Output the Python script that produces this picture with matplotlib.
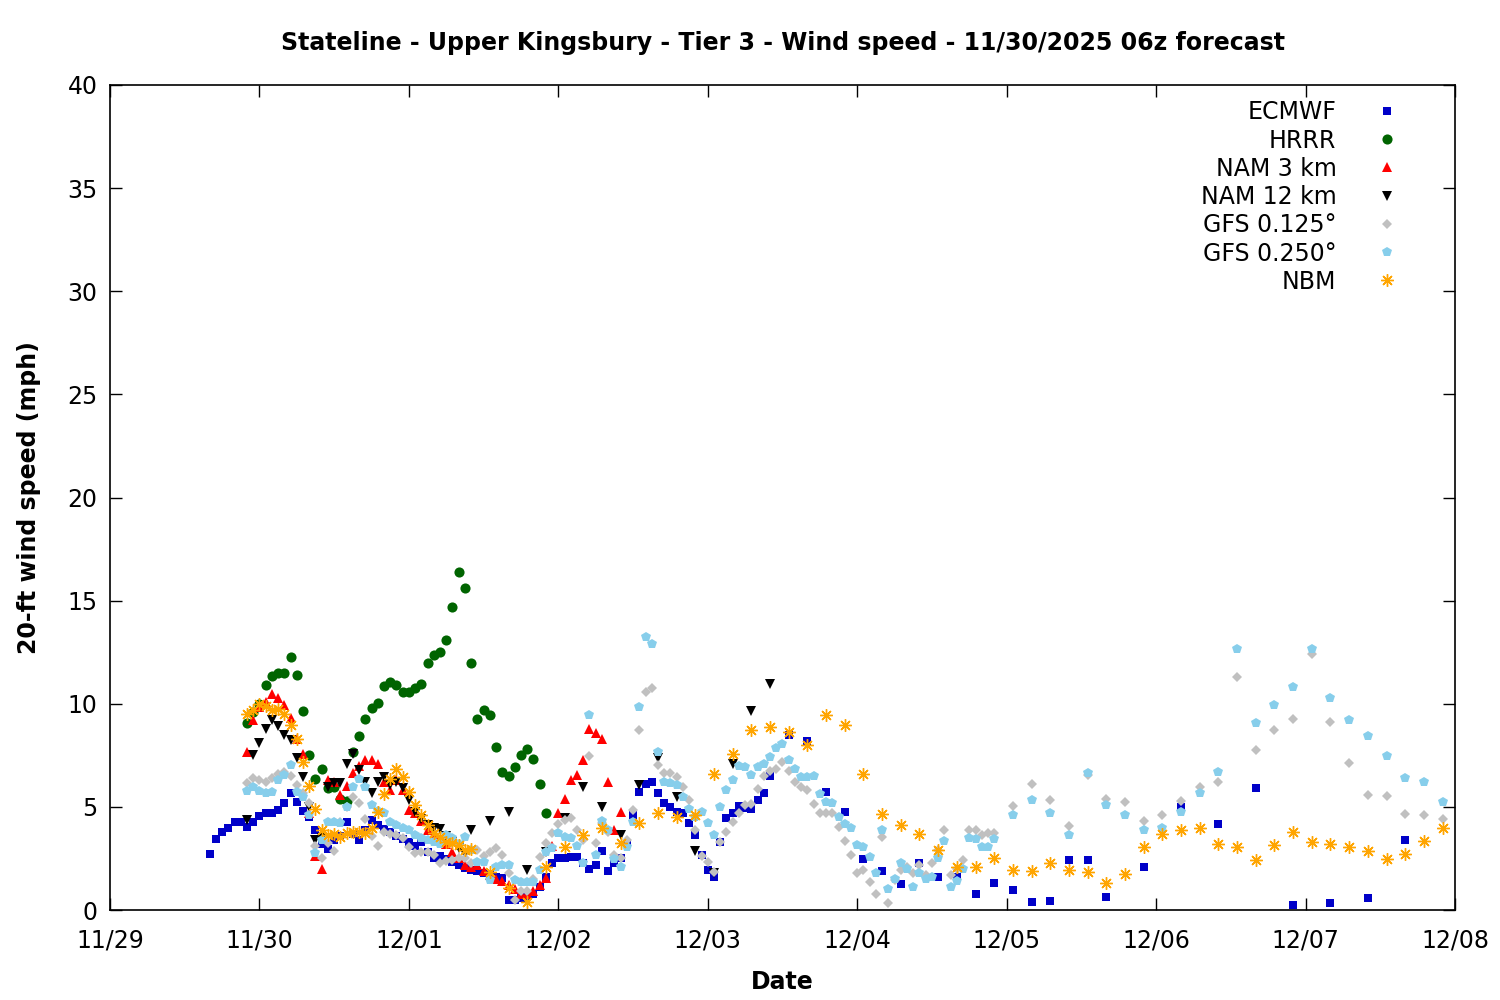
"""
Stateline - Upper Kingsbury - Tier 3 wind speed forecast plume
Reconstruction of the 11/30/2025 06z model comparison chart
"""

import matplotlib
matplotlib.use('Agg')
import matplotlib.pyplot as plt
import matplotlib.dates as mdates
import numpy as np
import pandas as pd

# Forecast valid times, hours after 11/29 00:00 local
BASE_TIME = pd.Timestamp('2025-11-29 00:00')

ecmwf_hours = list(range(16, 107)) + list(range(109, 161, 3)) + list(range(166, 209, 6))
ecmwf_mph = [
    2.7, 3.43, 3.8, 3.96, 4.28, 4.28, 4.04, 4.28, 4.56, 4.72,
    4.72, 4.85, 5.2, 5.65, 5.25, 4.8, 4.52, 3.9, 3.2, 2.94,
    3.4, 3.6, 4.28, 3.7, 3.4, 3.9, 4.36, 4.1, 3.95, 3.8,
    3.6, 3.45, 3.3, 3.1, 3.3, 2.8, 2.5, 2.6, 2.45, 2.35,
    2.18, 2.05, 1.94, 1.9, 1.78, 1.7, 1.6, 1.55, 0.48, 0.5,
    0.6, 0.7, 0.8, 1.1, 1.6, 2.26, 2.5, 2.5, 2.58, 2.58,
    2.26, 2.0, 2.18, 2.87, 1.89, 2.26, 2.5, 3.2, 4.6, 5.74,
    6.1, 6.22, 5.68, 5.17, 5.0, 4.77, 4.72, 4.23, 3.64, 2.67,
    1.94, 1.6, 3.3, 4.44, 4.69, 5.04, 4.95, 4.88, 5.33, 5.68,
    6.5,
    # 3-hourly
    8.5, 8.2, 5.7, 4.73, 2.46, 1.9, 1.26, 2.26, 1.6, 1.6,
    0.8, 1.3, 0.97, 0.37, 0.44, 2.42, 2.42, 0.61,
    # 6-hourly
    2.07, 5.0, 4.15, 5.9, 0.24, 0.32, 0.56, 3.4,
]

hrrr_hours = list(range(22, 71))
hrrr_mph = [
    9.05, 9.6, 10.0, 10.9, 11.35, 11.5, 11.47, 12.25, 11.4, 9.66,
    7.5, 6.34, 6.84, 5.9, 5.95, 5.4, 5.3, 7.67, 8.44, 9.24,
    9.78, 10.05, 10.87, 11.07, 10.9, 10.55, 10.55, 10.75, 10.94, 11.96,
    12.36, 12.5, 13.1, 14.67, 16.37, 15.6, 11.96, 9.25, 9.7, 9.45,
    7.9, 6.7, 6.5, 6.95, 7.5, 7.8, 7.3, 6.1, 4.69,
]

nam3_hours = list(range(22, 83))
nam3_mph = [
    7.67, 9.2, 9.85, 10.1, 10.47, 10.26, 9.94, 9.29, 8.3, 7.56,
    4.7, 2.6, 2.0, 6.3, 6.22, 5.58, 6.0, 6.64, 7.0, 7.27,
    7.27, 7.1, 6.2, 5.8, 6.3, 5.8, 4.85, 4.7, 4.3, 3.9,
    3.7, 3.4, 3.2, 2.83, 2.5, 2.2, 2.1, 2.2, 1.9, 1.7,
    1.5, 1.4, 1.2, 1.0, 0.8, 0.8, 0.9, 1.2, 1.53, 3.1,
    4.69, 5.4, 6.3, 6.55, 7.27, 8.8, 8.6, 8.27, 6.22, 3.9,
    4.77,
]

nam12_hours = list(range(22, 59)) + list(range(61, 107, 3))
nam12_mph = [
    4.36, 7.5, 8.1, 8.8, 9.2, 8.9, 8.5, 8.24, 7.35, 6.46,
    5.0, 3.4, 3.5, 5.95, 6.14, 6.14, 7.1, 7.56, 6.8, 6.2,
    5.65, 6.22, 6.46, 6.06, 6.22, 5.9, 5.33, 4.77, 4.4, 4.12,
    3.96, 3.91, 3.6, 3.3, 3.0, 2.7, 3.9,
    # 3-hourly
    4.3, 4.77, 1.94, 2.8, 4.44, 5.97, 5.0, 3.64, 6.06, 7.35,
    5.5, 2.88, 1.8, 7.1, 9.65, 10.96,
]

gfs_hours = list(range(22, 143)) + list(range(145, 215, 3))
gfs0125_mph = [
    6.18, 6.38, 6.3, 6.2, 6.38, 6.6, 6.7, 6.5, 6.06, 5.65,
    5.17, 3.1, 2.5, 3.23, 2.87, 4.28, 5.0, 5.5, 5.2, 4.4,
    3.6, 3.1, 3.8, 3.7, 3.64, 3.5, 3.07, 2.78, 2.83, 2.8,
    2.67, 2.26, 2.4, 2.42, 2.5, 2.5, 2.3, 2.9, 2.6, 2.8,
    3.02, 2.67, 1.78, 0.48, 0.9, 0.9, 1.5, 2.58, 3.23, 3.72,
    4.17, 4.36, 4.44, 3.88, 3.4, 7.47, 3.26, 4.2, 3.8, 2.67,
    2.5, 3.4, 4.85, 8.73, 10.58, 10.75, 7.03, 6.63, 6.63, 6.46,
    5.95, 5.33, 3.88, 2.62, 2.34, 1.86, 3.3, 3.8, 4.28, 4.72,
    5.1, 5.14, 5.85, 6.5, 6.75, 6.85, 7.19, 6.75, 6.22, 5.95,
    5.82, 5.14, 4.69, 4.69, 4.69, 4.04, 3.36, 2.67, 1.78, 1.94,
    1.37, 0.8, 3.55, 0.36, 1.45, 1.94, 2.1, 1.8, 2.18, 1.7,
    2.26, 2.9, 3.88, 1.7, 2.0, 2.42, 3.88, 3.88, 3.64, 3.72,
    3.72,
    # 3-hourly
    5.04, 6.1, 5.33, 4.07, 6.55, 5.37, 5.25, 4.33, 4.6, 5.3,
    5.98, 6.19, 11.28, 7.76, 8.73, 9.25, 12.41, 9.1, 7.11, 5.58,
    5.53, 4.65, 4.6, 4.41,
]
gfs0250_mph = [
    5.78, 5.98, 5.78, 5.69, 5.74, 6.3, 6.55, 7.03, 5.74, 5.5,
    4.6, 2.78, 3.4, 4.28, 4.28, 4.2, 5.0, 5.95, 6.34, 5.95,
    5.1, 4.8, 4.69, 4.28, 4.12, 3.96, 3.88, 3.64, 3.48, 3.4,
    3.3, 3.2, 3.64, 3.5, 3.2, 3.55, 2.9, 2.34, 2.34, 1.45,
    2.1, 2.18, 2.18, 1.45, 1.37, 1.37, 1.37, 1.94, 2.83, 3.0,
    3.72, 3.52, 3.48, 3.1, 2.26, 9.45, 2.67, 4.33, 3.9, 2.46,
    2.1, 3.07, 4.28, 9.82, 13.22, 12.88, 7.67, 6.22, 6.17, 6.06,
    5.5, 4.9, 4.5, 4.77, 4.23, 3.64, 4.98, 5.82, 6.3, 7.0,
    6.95, 6.55, 6.95, 7.1, 7.4, 7.84, 8.05, 7.27, 6.82, 6.46,
    6.43, 6.5, 5.62, 5.25, 5.2, 4.52, 4.17, 3.96, 3.15, 3.07,
    2.55, 1.8, 3.88, 1.0, 1.49, 2.3, 1.97, 1.13, 1.8, 1.49,
    1.6, 2.5, 3.36, 1.13, 1.42, 2.0, 3.48, 3.42, 3.07, 3.07,
    3.42,
    # 3-hourly
    4.6, 5.33, 4.72, 3.64, 6.63, 5.1, 4.6, 3.88, 4.0, 4.77,
    5.65, 6.7, 12.65, 9.05, 9.94, 10.83, 12.65, 10.26, 9.2, 8.44,
    7.48, 6.38, 6.22, 5.25,
]

nbm_hours = list(range(22, 59)) + list(range(61, 215, 3))
nbm_mph = [
    9.5, 9.7, 9.97, 9.9, 9.7, 9.73, 9.5, 8.97, 8.27, 7.2,
    6.0, 4.88, 3.88, 3.64, 3.68, 3.52, 3.75, 3.8, 3.8, 3.75,
    4.0, 4.77, 5.62, 6.34, 6.82, 6.46, 5.74, 5.1, 4.6, 4.12,
    3.75, 3.55, 3.3, 3.23, 3.15, 2.9, 2.94,
    # 3-hourly
    1.86, 1.05, 0.4, 2.07, 3.07, 3.64, 3.96, 3.23, 4.23, 4.69,
    4.5, 4.6, 6.6, 7.56, 8.73, 8.86, 8.65, 8.0, 9.45, 8.97,
    6.6, 4.65, 4.12, 3.68, 2.9, 2.07, 2.07, 2.5, 1.94, 1.89,
    2.26, 1.94, 1.82, 1.29, 1.73, 3.04, 3.68, 3.88, 3.96, 3.2,
    3.04, 2.42, 3.15, 3.8, 3.28, 3.2, 3.04, 2.86, 2.45, 2.7,
    3.36, 3.99,
]


def to_times(hours):
    return BASE_TIME + pd.to_timedelta(np.array(hours), unit='h')


# (label, hours, values, marker, size, color)
series = [
    ('ECMWF', ecmwf_hours, ecmwf_mph, 's', 6.2, '#0000c8'),
    ('HRRR', hrrr_hours, hrrr_mph, 'o', 7.3, '#006400'),
    ('NAM 3 km', nam3_hours, nam3_mph, '^', 7.8, '#ff0000'),
    ('NAM 12 km', nam12_hours, nam12_mph, 'v', 7.8, '#000000'),
    ('GFS 0.125°', gfs_hours, gfs0125_mph, 'D', 5.2, '#c0c0c0'),
    ('GFS 0.250°', gfs_hours, gfs0250_mph, 'p', 7.8, '#87ceeb'),
    ('NBM', nbm_hours, nbm_mph, (8, 2, 0), 9.0, '#ffa500'),
]

fig = plt.figure(figsize=(15, 10), dpi=100)
ax = fig.add_axes([110 / 1500, 90 / 1000, 1345 / 1500, 825 / 1000])

for label, hours, vals, marker, ms, color in series:
    if label == 'NBM':
        ax.plot(to_times(hours), vals, linestyle='none', marker=marker, markersize=ms,
                color=color, markeredgecolor=color, markeredgewidth=1.0, label=label)
    else:
        ax.plot(to_times(hours), vals, linestyle='none', marker=marker, markersize=ms,
                color=color, markeredgewidth=0, label=label)

ax.set_xlim(pd.Timestamp('2025-11-29'), pd.Timestamp('2025-12-08'))
ax.set_ylim(0, 40)
ax.set_yticks(np.arange(0, 41, 5))
ax.xaxis.set_major_locator(mdates.DayLocator())
ax.xaxis.set_major_formatter(mdates.DateFormatter('%m/%d'))

ax.tick_params(axis='both', direction='in', length=8.5, width=1.0,
               top=True, right=True, labelsize=17)
ax.tick_params(axis='x', pad=13)
ax.tick_params(axis='y', pad=9)
for sp in ax.spines.values():
    sp.set_linewidth(1.2)

ax.set_xlabel('Date', fontsize=17, fontweight='bold', labelpad=13)
ax.set_ylabel('20-ft wind speed (mph)', fontsize=17, fontweight='bold', labelpad=19)

fig.text(0.522, 0.957, 'Stateline - Upper Kingsbury - Tier 3 - Wind speed - 11/30/2025 06z forecast',
         ha='center', va='center', fontsize=17, fontweight='bold')

ax.legend(loc='upper right', bbox_to_anchor=(0.9584, 0.9815), markerfirst=False,
          frameon=False, fontsize=17, numpoints=1, handlelength=1.0,
          handletextpad=1.65, labelspacing=0.18, borderaxespad=0, borderpad=0)

fig.savefig('out.png', dpi=100)
